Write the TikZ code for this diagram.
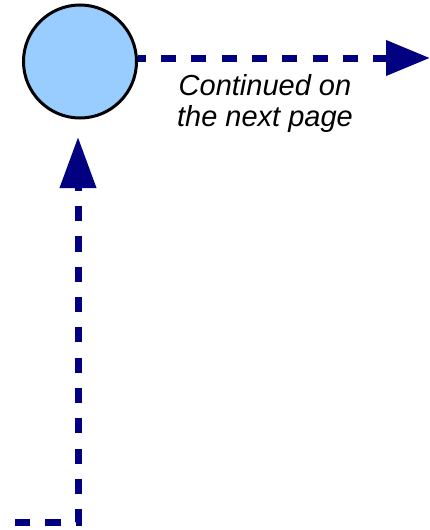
\documentclass[tikz,border=0pt]{standalone}
\usepackage{fontspec}
\setmainfont{Liberation Sans}
\usetikzlibrary{arrows.meta}
\definecolor{flowblue}{HTML}{000080}
\definecolor{nodefill}{HTML}{99CCFF}
\tikzset{
  connbox/.style={draw=black, line width=3pt, fill=nodefill, circle, minimum size=113pt, inner sep=0pt},
  flow/.style={draw=flowblue, line width=7pt, dash pattern=on 15.15pt off 15.15pt},
  flowtip/.style={-{Triangle[length=44pt,width=34pt]}},
  note/.style={font=\itshape\fontsize{29}{31}\selectfont, align=center, inner sep=0pt, text=black}
}
\begin{document}
\begin{tikzpicture}[x=1pt,y=-1pt]
\useasboundingbox (0,0) rectangle (430,530);
\node[connbox] (c) at (80,61.5) {};
\coordinate (next) at (430,58);
\coordinate (entry) at (0,522);
\draw[flow, flowtip, dash phase=7.3pt] (c.east |- next) -- (next);
\draw[flow, -{Triangle[length=51pt,width=35pt]}, dash phase=15.15pt, shorten >=17.5pt] (entry) -| ([xshift=-2pt]c.south);
\node[note, anchor=base] (t) at (265,126) {Continued on\\the next page};
\end{tikzpicture}
\end{document}
